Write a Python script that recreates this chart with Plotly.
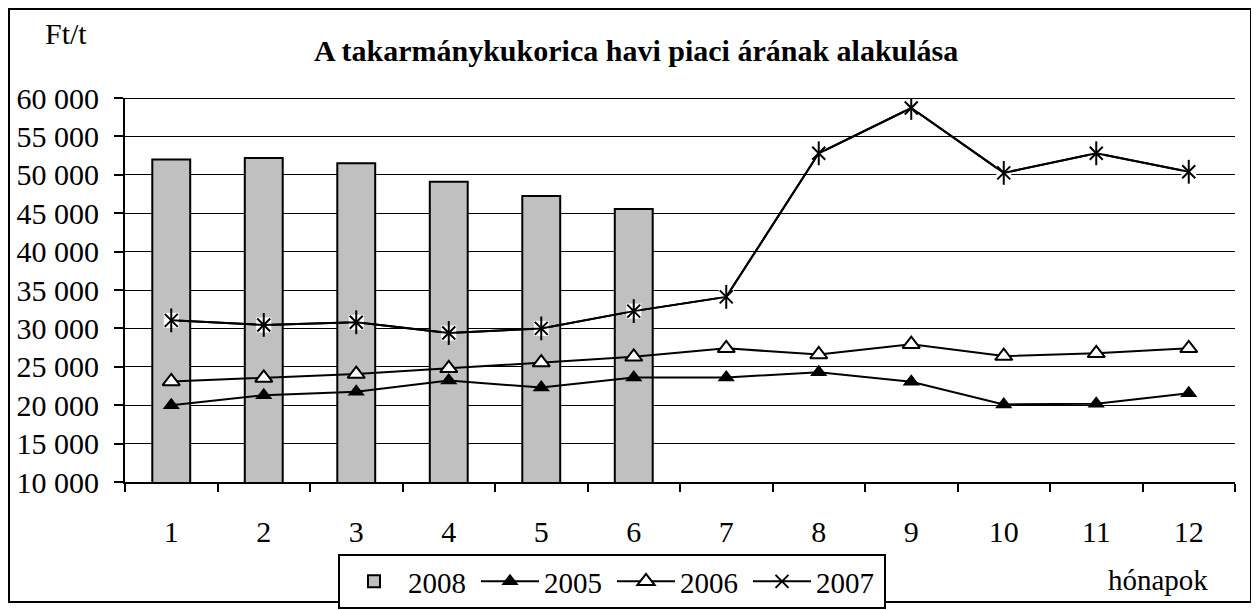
import plotly.graph_objects as go

# %%
honapok = ["1", "2", "3", "4", "5", "6", "7", "8", "9", "10", "11", "12"]
ar_2008 = [52000, 52200, 51500, 49100, 47250, 45550]
ar_2005 = [20000, 21300, 21750, 23200, 22300, 23600, 23600, 24300, 23050, 20100, 20200, 21550]
ar_2006 = [23100, 23550, 24050, 24800, 25550, 26300, 27400, 26600, 27950, 26400, 26750, 27400]
ar_2007 = [31050, 30450, 30800, 29400, 30000, 32250, 34100, 52800, 58700, 50250, 52800, 50400]
y_ticks = list(range(10000, 60001, 5000))
y_labels = [f"{v // 1000} 000" for v in y_ticks]

FONT = "Liberation Serif"

# %%
fig = go.Figure()
fig.add_trace(go.Bar(x=honapok[:len(ar_2008)], y=ar_2008, name="2008", width=0.41,
                     marker=dict(color="#C0C0C0", line=dict(color="black", width=2))))
fig.add_trace(go.Scatter(x=honapok, y=ar_2005, name="2005", mode="lines+markers",
                         line=dict(color="black", width=2),
                         marker=dict(symbol="triangle-up", size=15, color="black")))
fig.add_trace(go.Scatter(x=honapok, y=ar_2006, name="2006", mode="lines+markers",
                         line=dict(color="black", width=2),
                         marker=dict(symbol="triangle-up", size=15, color="white",
                                     line=dict(color="black", width=2))))
# 2007: white box behind the star, then X + vertical bar
fig.add_trace(go.Scatter(x=honapok, y=ar_2007, mode="lines+markers", showlegend=False,
                         line=dict(color="black", width=2),
                         marker=dict(symbol="square", size=15, color="white")))
fig.add_trace(go.Scatter(x=honapok, y=ar_2007, name="2007", mode="lines+markers",
                         line=dict(color="black", width=2),
                         marker=dict(symbol="x-thin-open", size=13, color="black",
                                     line=dict(color="black", width=2))))
fig.add_trace(go.Scatter(x=honapok, y=ar_2007, mode="markers", showlegend=False,
                         marker=dict(symbol="line-ns-open", size=17, color="black",
                                     line=dict(color="black", width=2))))

# page body has an 8px margin, so work in screen px minus 8
OFF = 8
W, H = 1259 - OFF, 610 - OFF
ml, mr, mt, mb = 125 - OFF, 24, 98 - OFF, 128
pw, ph = W - ml - mr, H - mt - mb

def px_x(v):
    return (v - OFF - ml) / pw

def px_y(v):
    return (H - mb - (v - OFF)) / ph

fig.update_layout(
    width=W, height=H,
    margin=dict(l=ml, r=mr, t=mt, b=mb, autoexpand=False),
    paper_bgcolor="white", plot_bgcolor="white",
    font=dict(family=FONT, size=30, color="black"),
    showlegend=True,
    legend=dict(orientation="h", x=px_x(338), xanchor="left", y=px_y(554), yanchor="top",
                bordercolor="black", borderwidth=2, font=dict(size=29),
                itemwidth=58, entrywidth=63, tracegroupgap=0),
    shapes=[
        dict(type="rect", xref="paper", yref="paper", x0=px_x(9), x1=px_x(1251),
             y0=px_y(602), y1=px_y(9), line=dict(color="black", width=2)),
        dict(type="line", xref="paper", yref="y", x0=0, x1=1, y0=60000, y1=60000,
             line=dict(color="black", width=2)),
    ],
    annotations=[
        dict(text="<b>A takarmánykukorica havi piaci árának alakulása</b>", xref="paper", yref="paper",
             x=px_x(636), y=px_y(50), xanchor="center", yanchor="middle", showarrow=False,
             font=dict(size=30)),
        dict(text="Ft/t", xref="paper", yref="paper", x=px_x(66), y=px_y(34),
             xanchor="center", yanchor="middle", showarrow=False, font=dict(size=30)),
        dict(text="hónapok", xref="paper", yref="paper", x=px_x(1158), y=px_y(580),
             xanchor="center", yanchor="middle", showarrow=False, font=dict(size=29)),
    ],
)
fig.update_xaxes(type="category", categoryorder="array", categoryarray=honapok,
                 tickson="boundaries", ticks="outside", ticklen=8, tickwidth=2, tickcolor="black",
                 showline=True, linecolor="black", linewidth=2, showgrid=False,
                 ticklabelstandoff=22, range=[-0.5, 11.5], automargin=False)
fig.update_yaxes(range=[10000, 60000], tickvals=y_ticks, ticktext=y_labels,
                 ticks="outside", ticklen=9, tickwidth=2, tickcolor="black",
                 showline=True, linecolor="black", linewidth=2,
                 showgrid=True, gridcolor="black", gridwidth=1,
                 ticklabelstandoff=9, zeroline=False, automargin=False)

fig.write_html("out.html")
